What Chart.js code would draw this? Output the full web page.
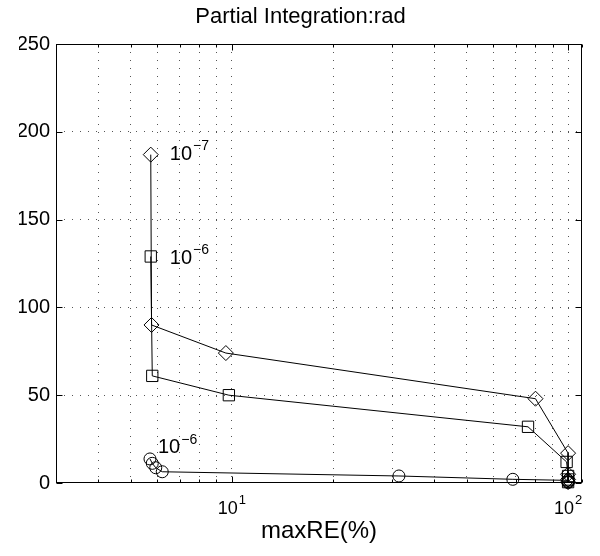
<!DOCTYPE html>
<html><head><meta charset="utf-8">
<script src="https://cdn.jsdelivr.net/npm/chart.js@4"></script>
<style>html,body{margin:0;padding:0;background:#fff}#wrap{width:600px;height:556px}</style>
</head><body><div id="wrap"><canvas id="c" width="600" height="556"></canvas></div>
<script>
// ---- text ----
const titleText = 'Partial Integration:rad';
const xAxisTitle = 'maxRE(%)';

// ---- axes ----
const yTickValues = [0, 50, 100, 150, 200, 250];
const xGridValues = [3, 4, 5, 6, 7, 8, 9, 10, 20, 30, 40, 50, 60, 70, 80, 90, 100, 110];
const xMajorValues = [10, 100];
const xMajorBase = ['10', '10'];
const xMajorExp = ['1', '2'];

// ---- series ----
const diamondX = [5.74, 5.77, 9.6, 80, 100, 100, 100, 100];
const diamondY = [187, 90, 74, 48, 17, 5, 2, 0.5];
const squareX  = [5.74, 5.8, 9.8, 76, 99, 100, 100, 100];
const squareY  = [129, 61, 50, 32, 12, 4, 2, 0.5];
const circleX  = [5.71, 5.8, 5.94, 6.21, 31.4, 68.5, 100, 100, 100];
const circleY  = [13.7, 11.2, 8.7, 6.4, 4.0, 2.1, 1.5, 0.8, 0.3];

// ---- point annotations ----
const annoSeries = [0, 1, 2];
const annoPoint  = [0, 0, 0];
const annoBase   = ['10', '10', '10'];
const annoExp    = ['\u22127', '\u22126', '\u22126'];

const FONT = "'Liberation Sans', Arial, Helvetica, sans-serif";
const annoOffset = [[19, 0], [19, 2], [8, -11]];

function toPts(xs, ys) { return xs.map((x, i) => ({x: x, y: ys[i]})); }

const frame = {
  id: 'frame',
  afterDraw(chart) {
    const ctx = chart.ctx, a = chart.chartArea;
    const xs = chart.scales.x, ys = chart.scales.y;
    ctx.save();
    ctx.strokeStyle = '#000';
    ctx.lineWidth = 1;
    const L = Math.round(a.left) + 0.5, R = Math.round(a.right) - 0.5;
    const T = Math.round(a.top) + 0.5, B = Math.round(a.bottom) - 0.5;
    ctx.strokeRect(L, T, R - L, B - T);
    ctx.beginPath();
    yTickValues.forEach(v => {
      const p = Math.round(ys.getPixelForValue(v)) + 0.5;
      ctx.moveTo(L, p); ctx.lineTo(L + 6, p);
      ctx.moveTo(R, p); ctx.lineTo(R - 6, p);
    });
    xGridValues.forEach(v => {
      const p = Math.round(xs.getPixelForValue(v)) + 0.5;
      const len = xMajorValues.includes(v) ? 6 : 3;
      ctx.moveTo(p, B); ctx.lineTo(p, B - len);
      ctx.moveTo(p, T); ctx.lineTo(p, T + len);
    });
    ctx.stroke();

    // x tick labels with superscripts
    ctx.fillStyle = '#000';
    xMajorValues.forEach((v, i) => {
      const px = xs.getPixelForValue(v);
      ctx.font = '18px ' + FONT;
      const wb = ctx.measureText(xMajorBase[i]).width;
      ctx.font = '13px ' + FONT;
      const we = ctx.measureText(xMajorExp[i]).width;
      const x0 = px - (wb + we + 1) / 2;
      ctx.textBaseline = 'middle';
      ctx.textAlign = 'left';
      ctx.font = '18px ' + FONT;
      ctx.fillText(xMajorBase[i], x0, 509);
      ctx.font = '13px ' + FONT;
      ctx.fillText(xMajorExp[i], x0 + wb + 1, 500);
    });

    // annotations
    annoSeries.forEach((s, i) => {
      const pt = chart.getDatasetMeta(s).data[annoPoint[i]];
      const x = pt.x + annoOffset[i][0], y = pt.y + annoOffset[i][1];
      ctx.textBaseline = 'middle';
      ctx.textAlign = 'left';
      ctx.font = '20px ' + FONT;
      ctx.fillText(annoBase[i], x, y);
      const w = ctx.measureText(annoBase[i]).width;
      ctx.font = '14px ' + FONT;
      ctx.fillText(annoExp[i], x + w + 1, y - 8);
    });
    ctx.restore();
  }
};

const dsCommon = {
  showLine: true, borderColor: '#000', borderWidth: 1,
  pointBorderColor: '#000', pointBackgroundColor: 'rgba(0,0,0,0)',
  pointBorderWidth: 1, clip: false, tension: 0
};

new Chart(document.getElementById('c'), {
  type: 'scatter',
  data: {
    datasets: [
      Object.assign({label: 'diamond', data: toPts(diamondX, diamondY), pointStyle: 'rectRot', pointRadius: 7.5}, dsCommon),
      Object.assign({label: 'square', data: toPts(squareX, squareY), pointStyle: 'rect', pointRadius: 8}, dsCommon),
      Object.assign({label: 'circle', data: toPts(circleX, circleY), pointStyle: 'circle', pointRadius: 6}, dsCommon)
    ]
  },
  options: {
    responsive: false, animation: false, devicePixelRatio: 1,
    layout: {padding: {left: 19, right: 18, top: 0, bottom: 0}},
    plugins: {
      legend: {display: false},
      tooltip: {enabled: false},
      title: {
        display: true, text: titleText, color: '#000',
        font: {family: FONT, size: 22, weight: 'normal'},
        padding: {top: 3.3, bottom: 14.3}
      }
    },
    scales: {
      x: {
        type: 'logarithmic', min: 3, max: 110,
        afterBuildTicks: s => { s.ticks = xGridValues.map(v => ({value: v})); },
        afterFit: s => { s.height = 73; },
        ticks: {display: false},
        grid: {color: c => (c.tick && (c.tick.value === 3 || c.tick.value === 110)) ? 'rgba(0,0,0,0)' : '#555', drawTicks: false, lineWidth: 1},
        border: {display: false, dash: [1, 7]},
        title: {display: true, text: xAxisTitle, color: '#000', font: {family: FONT, size: 24}, padding: {top: 0, bottom: 10.6}}
      },
      y: {
        min: 0, max: 250,
        afterBuildTicks: s => { s.ticks = yTickValues.map(v => ({value: v})); },
        afterFit: s => { s.width = 37; },
        ticks: {color: '#000', padding: 6, font: {family: FONT, size: 20}},
        grid: {color: c => (c.tick && (c.tick.value === 0 || c.tick.value === 250)) ? 'rgba(0,0,0,0)' : '#555', drawTicks: false, lineWidth: 1},
        border: {display: false, dash: [1, 7]}
      }
    }
  },
  plugins: [frame]
});
</script></body></html>
